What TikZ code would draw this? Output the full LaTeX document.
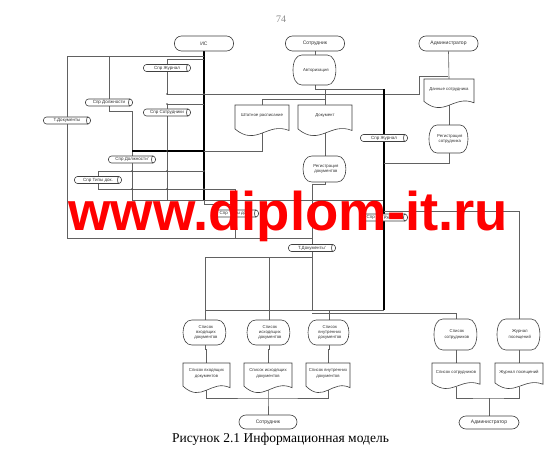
\documentclass[tikz,border=0pt]{standalone}
\usepackage{fontspec}
\setmainfont{Liberation Serif}
\newfontfamily\lsans{Liberation Sans}
\usetikzlibrary{calc}
\pgfdeclarelayer{back}
\pgfdeclarelayer{bg}
\pgfsetlayers{back,bg,main}
\tikzset{
 ln/.style={draw=black!62, line width=0.6pt},
 tk/.style={draw=black, line width=1.3pt},
 shp/.style={draw=black!75, line width=0.6pt, fill=white},
 box/.style={inner sep=0pt, outer sep=0pt, draw=none},
 lbl/.style={inner sep=0pt, align=center, text=black!80, font=\lsans\fontsize{4.3}{5.4}\selectfont},
 term/.style={draw=black!75, line width=0.6pt, fill=white, rounded corners=7pt, minimum width=59pt, minimum height=15pt, inner sep=0pt, text=black!80, font=\lsans\fontsize{5}{6}\selectfont},
 cyl/.style={draw=black!75, line width=0.6pt, fill=white, rounded corners=3pt, minimum width=47pt, minimum height=7pt, inner sep=0pt, text=black!80, font=\lsans\fontsize{4.5}{5}\selectfont},
 dot/.style={fill=black!70},
}
% document symbol: name, x0, y0, x1, y1, text
\newcommand\DocShape[6]{%
  \pgfmathsetmacro\dw{#4-#2}\pgfmathsetmacro\dh{#5-#3}\pgfmathsetmacro\dhh{0.94*\dh}%
  \draw[shp] (#2,#3) -- (#4,#3) -- (#4,{#5-0.15*\dh}) .. controls ({#2+0.6*\dw},{#5-0.45*\dh}) and ({#2+0.4*\dw},{#5+0.4*\dh}) .. (#2,{#5-0.2*\dh}) -- cycle;
  \node[box, minimum width=\dw pt, minimum height=\dhh pt, anchor=north] (#1) at ({(#2+#4)/2},#3) {};
  \node[lbl] (#1t) at ({(#2+#4)/2},{#3+0.36*\dh}) {#6};
}
% display symbol: name, x0, y0, x1, y1, text
\newcommand\DispShape[6]{%
  \pgfmathsetmacro\dw{#4-#2}\pgfmathsetmacro\dh{#5-#3}%
  \draw[shp] ({#2+0.2*\dw},#3) -- ({#4-0.22*\dw},#3) .. controls ({#4+0.04*\dw},#3) and ({#4+0.04*\dw},#5) .. ({#4-0.22*\dw},#5) -- ({#2+0.2*\dw},#5) .. controls ({#2+0.07*\dw},#5) and (#2,{#3+0.78*\dh}) .. (#2,{#3+0.5*\dh}) .. controls (#2,{#3+0.22*\dh}) and ({#2+0.07*\dw},#3) .. cycle;
  \node[box, minimum width=\dw pt, minimum height=\dh pt] (#1) at ({(#2+#4)/2},{(#3+#5)/2}) {};
  \node[lbl] (#1t) at ({(#2+#4)/2+0.02*\dw},{(#3+#5)/2}) {#6};
}
% horizontal store: name, cx, cy, text
\newcommand\CylNode[4]{%
  \node[cyl] (#1) at (#2,#3) {#4};
  \draw[draw=black!75, line width=0.6pt] ($(#1.north east)+(-2.6,0)$) .. controls ($(#1.north east)+(-4.8,0)$) and ($(#1.south east)+(-4.8,0)$) .. ($(#1.south east)+(-2.6,0)$);
}
\begin{document}
\begin{tikzpicture}[x=1pt,y=-1pt]
\begin{pgfonlayer}{back}
\fill[white] (0,0) rectangle (544,460);
\end{pgfonlayer}
\useasboundingbox (0,0) rectangle (544,460);

\node[anchor=base, inner sep=0pt, text=black!45, font=\fontsize{10}{10}\selectfont] (pg) at (281,23) {74};

% terminals
\node[term] (IS) at (204,43.5) {ИС};
\node[term] (sotr) at (315,43.5) {Сотрудник};
\node[term] (adm) at (448.5,43.5) {Администратор};
\node[term, minimum width=58pt, minimum height=14pt] (sotr2) at (268,422) {Сотрудник};
\node[term, minimum width=60pt, minimum height=13pt] (adm2) at (489,422.5) {Администратор};

% stores
\CylNode{sprj1}{167}{68}{Спр Журнал}
\CylNode{sprd1}{109}{102.5}{Спр Должности}
\CylNode{tdoc1}{67}{120.5}{Т.Документы}
\CylNode{sprs1}{167}{112.5}{Спр Сотрудники}
\CylNode{sprd2}{132}{159.5}{Спр Должности'}
\CylNode{sprt1}{98}{180}{Спр Типы док.}
\CylNode{sprt2}{235}{213.5}{Спр Типы док.'}
\CylNode{sprj2}{384}{138}{Спр Журнал}
\CylNode{sprs2}{384}{217.5}{Спр Сотрудники'}
\CylNode{tdoc2}{312}{248}{Т.Документы'}

% displays
\DispShape{auth}{293}{55}{337}{85}{Авторизация}
\DispShape{regdoc}{303}{156}{347}{182}{Регистрация\\документов}
\DispShape{regs}{429}{125}{469}{153}{Регистрация\\сотрудника}
\DispShape{dlin}{183}{320}{227}{345}{Список\\входящих\\документов}
\DispShape{dlout}{247}{320}{291}{345}{Список\\исходящих\\документов}
\DispShape{dlint}{308}{320}{350}{345}{Список\\внутренних\\документов}
\DispShape{dls}{434}{319}{478}{350}{Список\\сотрудников}
\DispShape{djp}{497}{319}{541}{350}{Журнал\\посещений}

% documents
\DocShape{ddata}{424}{79}{474}{107}{Данные сотрудника}
\DocShape{dshtat}{235}{105}{289}{135}{Штатное расписание}
\DocShape{ddoc}{298}{105}{352}{135}{Документ}
\DocShape{docin}{183}{363}{230}{392}{Список входящих\\документов}
\DocShape{docout}{244}{363}{292}{392}{Список исходящих\\документов}
\DocShape{docint}{306}{363}{350}{392}{Список внутренних\\документов}
\DocShape{docs}{432}{363}{480}{388}{Список сотрудников}
\DocShape{docjp}{495}{363}{543}{388}{Журнал посещений}

\coordinate (bl) at (268,398);
\coordinate (br) at (489,398);

\begin{pgfonlayer}{bg}
% left cluster
\draw[tk] (IS.south) -- (204,200);
\draw[ln] (204,200) -- (204,204) -| (sprt2.north);
\draw[ln] (204,56) -| (tdoc1.north);
\draw[ln] (tdoc1.south) -- (67,238) -- (312,238);
\draw[ln] (109,56) -- (sprd1.north);
\draw[ln] (sprd1.south) |- (132,111) -- (sprd2.north);
\draw[ln] (sprd2.south) -- (132,200) -- (384,200);
\draw[ln] (204,59) -| (sprj1.north);
\draw[ln] (sprj1.south) |- (419,94) |- (448,76);
\draw[ln] (204,104) -| (sprs1.north);
\draw[ln] (sprs1.south) -- (167,200);
\draw[tk] (132,151) -- (204,151);
\draw[ln] (204,151) -| (dshtat.south);
\draw[ln] (98,171) -- (204,171);
\draw[ln] (98,171) -- (sprt1.north);
\draw[ln] (sprt1.south) |- (235,189) -- (235,204);
\draw[ln] (sprt2.south) -- (235,238);
\foreach \p in {(132,171),(167,171),(204,171),(167,151),(132,189),(167,189),(204,189),(167,104),(204,94),(167,94)}
  \fill[dot] \p circle (0.9);
% right part
\draw[ln] (sotr.south) -- (auth.north);
\draw[ln] (auth.south) |- (384,89);
\draw[tk] (384,89) -- (sprj2.north);
\draw[tk] (sprj2.south) -- (sprs2.north);
\draw[tk] (sprs2.south) -- (384,310);
\draw[ln] (325,89) -- (325,99);
\draw[ln] (dshtat.north) |- (325,99) -- (ddoc.north);
\draw[ln] (ddoc.south) -- (regdoc.north);
\draw[ln] (regdoc.south) -- ++(0,2) -| (tdoc2.north);
\draw[ln] (tdoc2.south) -- (312,310);
\draw[ln] (adm.south) -- (ddata.north);
\draw[ln] (ddata.south) -- (regs.north);
\draw[ln] (regs.south) |- (384,163);
\draw[ln] (384,211) -| (djp.north);
\draw[ln] (205,257) -- (312,257);
\draw[ln] (205,257) -- (dlin.north);
\draw[ln] (269,257) -- (269,310);
\draw[ln] (205,310) -- (384,310);
\draw[ln] (269,310) -- (dlout.north);
\draw[ln] (329,310) -- (dlint.north);
\draw[ln] (312,313) -| (dls.north);
% lower part
\draw[ln] (dlin.south) -- ++(0,4) -| (docin.north);
\draw[ln] (dlout.south) -- ++(0,4) -| (docout.north);
\draw[ln] (dlint.south) -- ++(0,4) -| (docint.north);
\draw[ln] (dls.south) -- (docs.north);
\draw[ln] (djp.south) -- (docjp.north);
\draw[ln] (docin.south) |- (bl) -| (docint.south);
\draw[ln] (docout.south) -- (bl) -- (sotr2.north);
\draw[ln] (docs.south) |- (br) -| (docjp.south);
\draw[ln] (br) -- (adm2.north);
\end{pgfonlayer}

\node[anchor=base, inner sep=0pt, font=\fontsize{13.5}{14}\selectfont] (cap) at (280.5,442) {Рисунок 2.1 Информационная модель};

\node[anchor=base west, inner sep=0pt, text=red, font=\lsans\bfseries\fontsize{54.5}{55}\selectfont] (wm) at (68,230) {www.diplom-it.ru};
\end{tikzpicture}
\end{document}
